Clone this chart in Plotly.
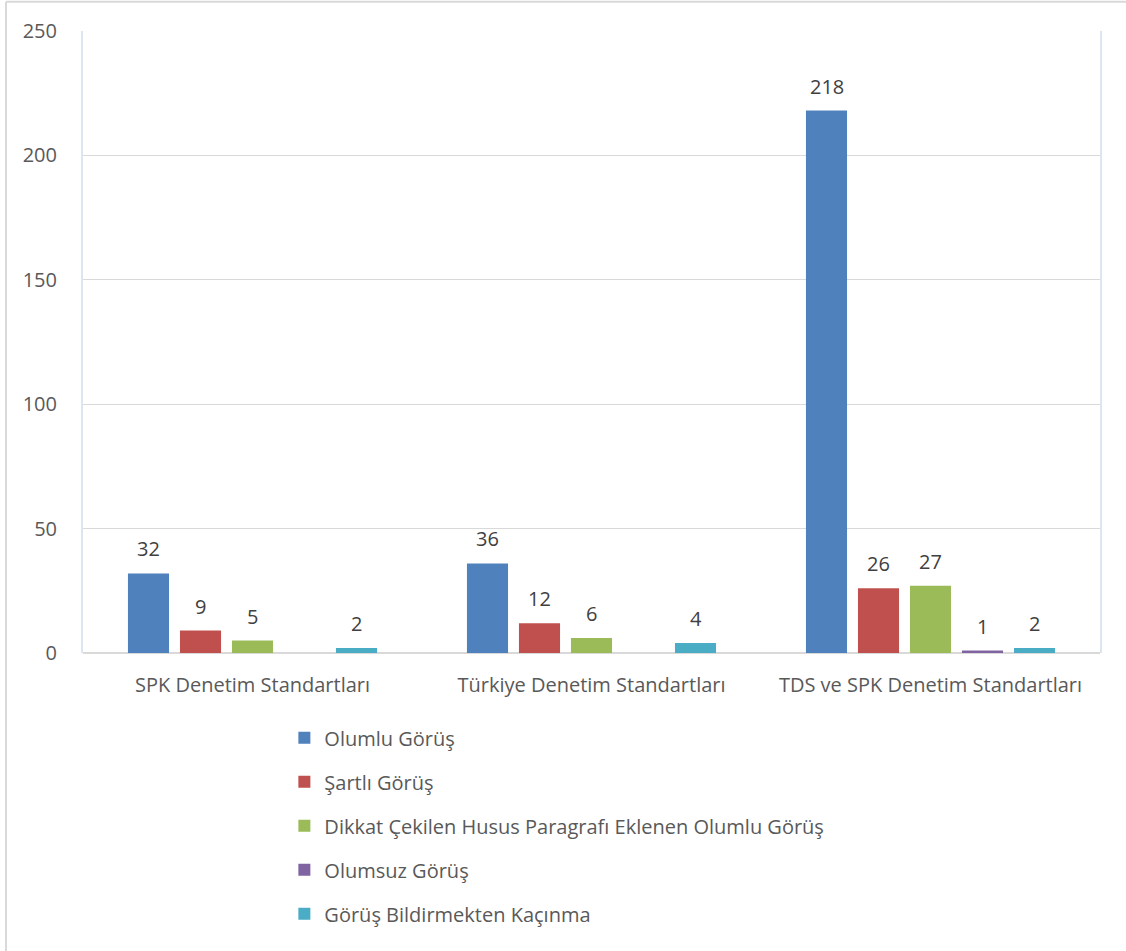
import plotly.graph_objects as go

categories = ["SPK Denetim Standartları", "Türkiye Denetim Standartları", "TDS ve SPK Denetim Standartları"]
series_names = ["Olumlu Görüş", "Şartlı Görüş", "Dikkat Çekilen Husus Paragrafı Eklenen Olumlu Görüş",
                "Olumsuz Görüş", "Görüş Bildirmekten Kaçınma"]
olumlu = [32, 36, 218]
sartli = [9, 12, 26]
dikkat = [5, 6, 27]
olumsuz = [None, None, 1]
kacinma = [2, 4, 2]
series_values = [olumlu, sartli, dikkat, olumsuz, kacinma]
colors = ["#4f81bd", "#c0504d", "#9bbb59", "#8064a2", "#4bacc6"]
y_ticks = [0, 50, 100, 150, 200, 250]

FONT = "Open Sans"
TXT = "#595959"
FS = 20

fig = go.Figure()
for i, (name, vals, col) in enumerate(zip(series_names, series_values, colors)):
    fig.add_trace(go.Bar(
        x=categories, y=vals, name=name, marker_color=col,
        marker_line_width=0, legendgroup=f"g{i}",
    ))

# value labels
n = len(series_names)
slot = 52
annotations = []
for i, vals in enumerate(series_values):
    for c, v in zip(categories, vals):
        if v is None:
            continue
        annotations.append(dict(
            x=c, y=v, xref="x", yref="y", text=str(v), showarrow=False,
            xshift=(i - (n - 1) / 2) * slot, yanchor="bottom", yshift=9,
            font=dict(family=FONT, size=FS, color="#404040"),
        ))

fig.update_layout(
    width=1126, height=951,
    margin=dict(l=83, r=26, t=31, b=298),
    paper_bgcolor="white", plot_bgcolor="white",
    barmode="group", bargap=0.233, bargroupgap=0.21,
    font=dict(family=FONT, size=FS, color=TXT),
    annotations=annotations,
    showlegend=True,
    legend=dict(
        x=0.198, y=-0.105, xanchor="left", yanchor="top",
        orientation="v", traceorder="grouped", tracegroupgap=15,
        font=dict(family=FONT, size=FS, color=TXT),
        itemwidth=30,
    ),
    xaxis=dict(
        showgrid=False, showline=False, ticks="", ticklabelstandoff=18,
        tickfont=dict(family=FONT, size=FS, color=TXT),
    ),
    yaxis=dict(
        range=[0, 250], tickvals=y_ticks, showgrid=True, gridcolor="#d9d9d9", gridwidth=1,
        zeroline=True, zerolinecolor="#d9d9d9", zerolinewidth=2,
        showline=True, linecolor="#dce6f2", linewidth=2, mirror=True,
        ticks="", ticklabelstandoff=20,
        tickfont=dict(family=FONT, size=FS, color=TXT),
    ),
    shapes=[
        dict(type="line", xref="paper", yref="paper", x0=-0.0757, x1=-0.0757, y0=-0.5, y1=1.047,
             line=dict(color="#d9d9d9", width=2)),
        dict(type="line", xref="paper", yref="paper", x0=-0.0757, x1=1.1, y0=1.047, y1=1.047,
             line=dict(color="#d9d9d9", width=2)),
    ],
)

fig.write_html("out.html")
